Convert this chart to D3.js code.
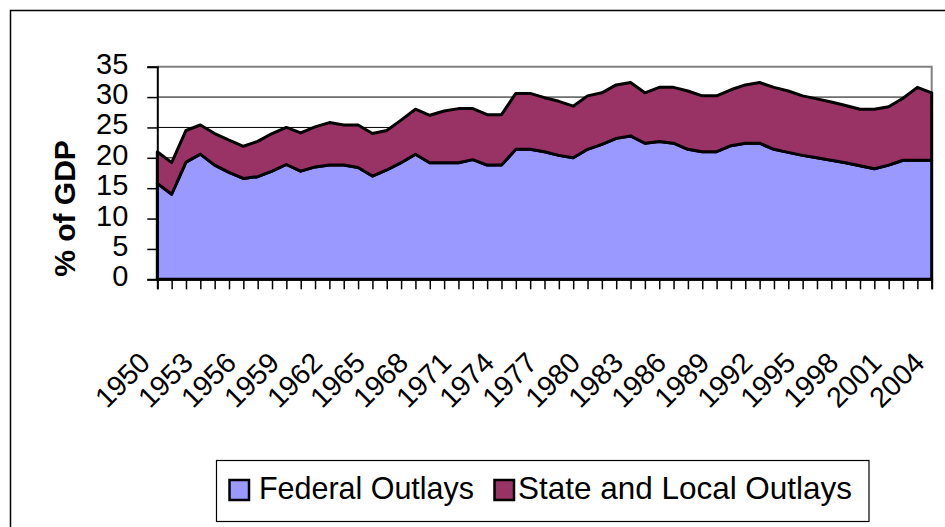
<!DOCTYPE html>
<html>
<head>
<meta charset="utf-8">
<script src="https://cdn.jsdelivr.net/npm/d3@7"></script>
<style>
  html, body { margin: 0; padding: 0; background: #fff; }
  svg { display: block; font-family: "Liberation Sans", Arial, sans-serif; }
</style>
</head>
<body>
<svg id="chart" width="945" height="527"></svg>
<script>
// ---- Data ----
const years = d3.range(1950, 2005);
const federalOutlays = [15.8,14.0,19.3,20.6,18.8,17.6,16.6,16.9,17.8,18.9,
  17.8,18.5,18.8,18.8,18.4,17.0,18.0,19.2,20.6,19.2,
  19.2,19.2,19.7,18.8,18.8,21.4,21.4,21.0,20.4,20.0,
  21.4,22.2,23.2,23.6,22.4,22.7,22.4,21.4,21.0,21.0,
  22.0,22.4,22.4,21.4,20.9,20.4,20.0,19.6,19.2,18.7,
  18.2,18.8,19.6,19.6,19.6];
const stateLocalOutlays = [5.2,5.2,5.2,4.8,5.2,5.3,5.3,5.8,6.2,6.1,
  6.3,6.6,7.0,6.6,7.0,7.0,6.5,7.0,7.4,7.8,
  8.5,8.9,8.4,8.3,8.3,9.2,9.2,8.9,8.9,8.5,
  8.8,8.5,8.8,8.8,8.3,8.9,9.2,9.6,9.2,9.2,
  9.2,9.6,10.0,10.2,10.1,9.8,9.7,9.6,9.4,9.3,
  9.8,9.6,10.2,12.0,11.1];
const seriesNames = ["Federal Outlays", "State and Local Outlays"];
const seriesColors = ["#9999FF", "#993366"];
const yTicks = [0, 5, 10, 15, 20, 25, 30, 35];
const xTickLabels = d3.range(1950, 2005, 3);
const yTitle = "% of GDP";

(function () {
// ---- Layout ----
const svg = d3.select("#chart");
const pL = 157.3, pR = 931.7, pT = 66.7, pB = 279.3;

const x = d3.scalePoint().domain(years).range([pL, pR]);
const y = d3.scaleLinear().domain([0, 35]).range([pB, pT]);

// outer chart border
svg.append("rect").attr("x", 10.5).attr("y", 10.5).attr("width", 1000).attr("height", 1000)
  .attr("fill", "none").attr("stroke", "#000").attr("stroke-width", 1.5);

// gridlines
svg.append("g").selectAll("line").data(yTicks.filter(d => d > 0 && d < 35)).join("line")
  .attr("x1", pL).attr("x2", pR)
  .attr("y1", d => y(d)).attr("y2", d => y(d))
  .attr("stroke", "#000").attr("stroke-width", 1);

// plot border (top & right, gray)
svg.append("path")
  .attr("d", `M${pL},${y(35)}H${pR}V${pB}`)
  .attr("fill", "none").attr("stroke", "#808080").attr("stroke-width", 2);

// stacked areas
const table = years.map((yr, i) => ({ year: yr, fed: federalOutlays[i], sl: stateLocalOutlays[i] }));
const stacked = d3.stack().keys(["fed", "sl"])(table);
const area = d3.area()
  .x(d => x(d.data.year))
  .y0(d => y(d[0]))
  .y1(d => y(d[1]));
svg.append("g").selectAll("path").data(stacked).join("path")
  .attr("d", area)
  .attr("fill", (d, i) => seriesColors[i])
  .attr("stroke", "#000").attr("stroke-width", 3).attr("stroke-linejoin", "round");

// y axis
const yAxis = svg.append("g").attr("transform", `translate(${pL},0)`)
  .call(d3.axisLeft(y).tickValues(yTicks).tickSize(10).tickPadding(19).tickFormat(d3.format("d")));
yAxis.select(".domain").attr("stroke", "#000").attr("stroke-width", 2);
yAxis.selectAll(".tick line").attr("stroke", "#000").attr("stroke-width", 1.5);
yAxis.selectAll(".tick text").attr("font-size", 29).attr("fill", "#000")
  .attr("font-family", "'Liberation Sans', Arial, sans-serif")
  .attr("dy", null).attr("y", 6.5);

// x axis (ticks only)
const xAxis = svg.append("g").attr("transform", `translate(0,${pB})`)
  .call(d3.axisBottom(x).tickSize(10).tickFormat(""));
xAxis.select(".domain").attr("stroke", "#000").attr("stroke-width", 2);
xAxis.selectAll(".tick line").attr("stroke", "#000").attr("stroke-width", 1.5);

// x tick labels, rotated
svg.append("g").selectAll("text").data(xTickLabels).join("text")
  .attr("transform", d => `translate(${x(d) - 5.5},364.5) rotate(-45)`)
  .attr("text-anchor", "end")
  .attr("font-size", 28.5)
  .attr("fill", "#000")
  .text(d => d);

// y title
svg.append("text")
  .attr("transform", "translate(75,208.5) rotate(-90)")
  .attr("text-anchor", "middle")
  .attr("font-size", 30).attr("font-weight", "bold").attr("fill", "#000")
  .text(yTitle);

// legend
const lg = svg.append("g");
lg.append("rect").attr("x", 216.5).attr("y", 460.5).attr("width", 652.5).attr("height", 61)
  .attr("fill", "#fff").attr("stroke", "#000").attr("stroke-width", 1.2);
const legendItems = [
  { name: seriesNames[0], color: seriesColors[0], sx: 229.5, tx: 259, w: 215 },
  { name: seriesNames[1], color: seriesColors[1], sx: 494.5, tx: 518, w: 334 }
];
lg.selectAll("rect.sw").data(legendItems).join("rect").attr("class", "sw")
  .attr("x", d => d.sx).attr("y", 480).attr("width", 19.5).attr("height", 20)
  .attr("fill", d => d.color).attr("stroke", "#000").attr("stroke-width", 2.5);
lg.selectAll("text").data(legendItems).join("text")
  .attr("x", d => d.tx).attr("y", 499)
  .attr("font-size", 30.5).attr("fill", "#000")
  .attr("textLength", d => d.w).attr("lengthAdjust", "spacingAndGlyphs")
  .text(d => d.name);
})();
</script>
</body>
</html>
